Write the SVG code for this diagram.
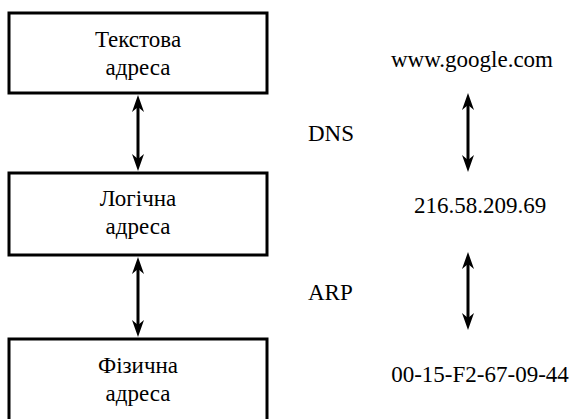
<svg xmlns="http://www.w3.org/2000/svg" width="574" height="419" viewBox="0 0 574 419">
<style>
  text { font-family: 'Liberation Serif', 'Times New Roman', serif !important; font-size: 23px; fill: #000000; }
  .c { text-anchor: middle; }
  .box { fill: #ffffff; stroke: #000000; stroke-width: 3; }
  .conn { stroke: #000000; stroke-width: 3; fill: none; marker-start: url(#ah); marker-end: url(#ah); }
</style>
<defs>
  <marker id="ah" viewBox="0 0 17 12" refX="5" refY="6" markerWidth="17" markerHeight="12" markerUnits="userSpaceOnUse" orient="auto-start-reverse">
    <path d="M0,0 L17,6 L0,12 L5,6 z" fill="#000000"/>
  </marker>
</defs>
<rect width="574" height="419" fill="#ffffff"/>
<g id="node-text">
  <rect class="box" x="9" y="13" width="258" height="80"/>
  <text class="c" x="138" y="47" style="font-family: 'Liberation Serif', serif !important">Текстова</text>
  <text class="c" x="138" y="75" style="font-family: 'Liberation Serif', serif !important">адреса</text>
</g>
<g id="node-logical">
  <rect class="box" x="9" y="173" width="258" height="82"/>
  <text class="c" x="138" y="206" style="font-family: 'Liberation Serif', serif !important">Логічна</text>
  <text class="c" x="138" y="234" style="font-family: 'Liberation Serif', serif !important">адреса</text>
</g>
<g id="node-physical">
  <rect class="box" x="9" y="339" width="258" height="90"/>
  <text class="c" x="138" y="373" style="font-family: 'Liberation Serif', serif !important">Фізична</text>
  <text class="c" x="138" y="401" style="font-family: 'Liberation Serif', serif !important">адреса</text>
</g>
<g id="labels">
  <text class="c" x="472" y="67" style="font-family: 'Liberation Serif', serif !important">www.google.com</text>
  <text x="308" y="141" style="font-family: 'Liberation Serif', serif !important">DNS</text>
  <text class="c" x="480" y="213" style="font-family: 'Liberation Serif', serif !important">216.58.209.69</text>
  <text x="308" y="300" style="font-family: 'Liberation Serif', serif !important">ARP</text>
  <text class="c" x="480" y="382" style="font-family: 'Liberation Serif', serif !important">00-15-F2-67-09-44</text>
</g>
<g id="connectors">
  <line class="conn" x1="138" y1="107" x2="138" y2="159"/>
  <line class="conn" x1="138" y1="269" x2="138" y2="325"/>
  <line class="conn" x1="468" y1="105" x2="468" y2="160"/>
  <line class="conn" x1="468" y1="264" x2="468" y2="318"/>
</g>
</svg>
